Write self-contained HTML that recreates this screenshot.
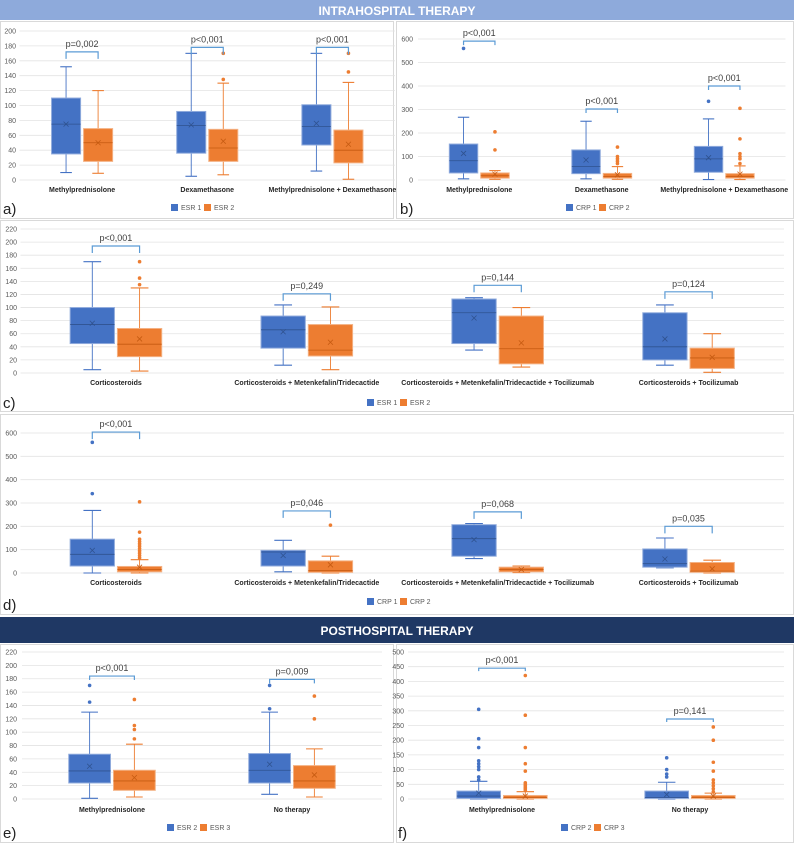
<!DOCTYPE html>
<html><head><meta charset="utf-8">
<style>
html,body{margin:0;padding:0;background:#fff;width:794px;height:843px;overflow:hidden;}
svg{display:block;font-family:"Liberation Sans",sans-serif;}
</style></head>
<body>
<svg id="fig" width="794" height="843" viewBox="0 0 794 843">
  <rect x="0" y="0" width="794" height="20" fill="#8eaadb"/>
  <text x="397" y="15" text-anchor="middle" fill="#fff" font-size="12" font-weight="bold">INTRAHOSPITAL THERAPY</text>
  <rect x="0.5" y="21.5" width="393" height="197" fill="none" stroke="#d9d9d9"/>
  <rect x="396.5" y="21.5" width="397" height="197" fill="none" stroke="#d9d9d9"/>
  <rect x="0.5" y="220.5" width="793" height="191" fill="none" stroke="#d9d9d9"/>
  <rect x="0.5" y="414.5" width="793" height="200" fill="none" stroke="#d9d9d9"/>
  <rect x="0" y="617" width="794" height="26" fill="#1f3864"/>
  <text x="397" y="635" text-anchor="middle" fill="#fff" font-size="12" font-weight="bold">POSTHOSPITAL THERAPY</text>
  <rect x="0.5" y="644.5" width="393" height="198" fill="none" stroke="#d9d9d9"/>
  <rect x="396.5" y="644.5" width="397" height="198" fill="none" stroke="#d9d9d9"/>
  <text x="3" y="214" font-size="15" fill="#222">a)</text>
  <text x="400" y="214" font-size="15" fill="#222">b)</text>
  <text x="3" y="408" font-size="15" fill="#222">c)</text>
  <text x="3" y="610" font-size="15" fill="#222">d)</text>
  <text x="3" y="838" font-size="15" fill="#222">e)</text>
  <text x="398" y="838" font-size="15" fill="#222">f)</text>
</svg>
<script>
// ---------- Panel a: ESR intrahospital ----------
const aCats = ['Methylprednisolone','Dexamethasone','Methylprednisolone + Dexamethasone'];
const aSeries = ['ESR 1','ESR 2'];
const aTicks = [0,20,40,60,80,100,120,140,160,180,200];
const aMin = [[10,9],[5,7],[12,1]];
const aQ1 = [[35,25],[36,25],[47,23]];
const aMed = [[75,50],[73,43],[72,40]];
const aQ3 = [[110,69],[92,68],[101,67]];
const aMax = [[152,120],[170,130],[170,131]];
const aMean = [[75,50],[74,52],[76,48]];
const aOut = [[[],[]],[[],[135,170]],[[],[145,170]]];
const aP = ['p=0,002','p<0,001','p<0,001'];
const aPTop = [172,178,178];

// ---------- Panel b: CRP intrahospital ----------
const bCats = ['Methylprednisolone','Dexamethasone','Methylprednisolone + Dexamethasone'];
const bSeries = ['CRP 1','CRP 2'];
const bTicks = [0,100,200,300,400,500,600];
const bMin = [[5,3],[5,3],[2,2]];
const bQ1 = [[30,8],[27,8],[33,8]];
const bMed = [[82,18],[57,15],[90,15]];
const bQ3 = [[153,30],[128,28],[143,27]];
const bMax = [[267,40],[250,57],[260,60]];
const bMean = [[113,25],[85,22],[95,25]];
const bOut = [[[560],[128,205]],[[],[70,80,90,100,140]],[[335],[70,90,100,112,175,305]]];
const bP = ['p<0,001','p<0,001','p<0,001'];
const bPTop = [591,302,400];

// ---------- Panel c: ESR by combination ----------
const cCats = ['Corticosteroids','Corticosteroids + Metenkefalin/Tridecactide','Corticosteroids + Metenkefalin/Tridecactide + Tocilizumab','Corticosteroids + Tocilizumab'];
const cSeries = ['ESR 1','ESR 2'];
const cTicks = [0,20,40,60,80,100,120,140,160,180,200,220];
const cMin = [[5,3],[12,5],[35,9],[12,1]];
const cQ1 = [[45,25],[38,26],[45,14],[20,7]];
const cMed = [[74,44],[66,35],[92,37],[40,23]];
const cQ3 = [[100,68],[87,74],[113,87],[92,38]];
const cMax = [[170,130],[104,101],[115,100],[104,60]];
const cMean = [[76,52],[63,47],[84,46],[52,24]];
const cOut = [[[],[135,145,170]],[[],[]],[[],[]],[[],[]]];
const cP = ['p<0,001','p=0,249','p=0,144','p=0,124'];
const cPTop = [194,121,134,124];

// ---------- Panel d: CRP by combination ----------
const dCats = cCats;
const dSeries = ['CRP 1','CRP 2'];
const dTicks = [0,100,200,300,400,500,600];
const dMin = [[0,0],[5,0],[62,2],[22,0]];
const dQ1 = [[30,5],[30,3],[72,5],[25,3]];
const dMed = [[80,15],[90,10],[147,15],[40,8]];
const dQ3 = [[145,28],[97,52],[207,25],[103,45]];
const dMax = [[268,57],[140,72],[212,30],[150,55]];
const dMean = [[97,25],[75,35],[143,15],[60,18]];
const dOut = [[[340,560],[65,75,85,95,105,115,125,135,145,175,305]],[[],[205]],[[],[]],[[],[]]];
const dP = ['p<0,001','p=0,046','p=0,068','p=0,035'];
const dPTop = [604,266,262,200];

// ---------- Panel e: ESR posthospital ----------
const eCats = ['Methylprednisolone','No therapy'];
const eSeries = ['ESR 2','ESR 3'];
const eTicks = [0,20,40,60,80,100,120,140,160,180,200,220];
const eMin = [[1,3],[7,3]];
const eQ1 = [[24,13],[24,16]];
const eMed = [[42,27],[43,27]];
const eQ3 = [[67,43],[68,50]];
const eMax = [[130,82],[130,75]];
const eMean = [[49,32],[52,36]];
const eOut = [[[145,170],[90,104,110,149]],[[135,170],[120,154]]];
const eP = ['p<0,001','p=0,009'];
const ePTop = [184,179];

// ---------- Panel f: CRP posthospital ----------
const fCats = ['Methylprednisolone','No therapy'];
const fSeries = ['CRP 2','CRP 3'];
const fTicks = [0,50,100,150,200,250,300,350,400,450,500];
const fMin = [[0,0],[0,0]];
const fQ1 = [[2,2],[2,2]];
const fMed = [[10,5],[5,5]];
const fQ3 = [[27,12],[27,12]];
const fMax = [[60,25],[57,20]];
const fMean = [[20,10],[15,10]];
const fOut = [[[65,75,100,110,120,130,175,205,305],[30,35,40,45,50,55,95,120,175,285,420]],[[75,85,100,140],[25,35,45,55,65,95,125,200,245]]];
const fP = ['p<0,001','p=0,141'];
const fPTop = [445,272];

const NS = 'http://www.w3.org/2000/svg';
const svg = document.getElementById('fig');
const FILL = ['#4472c4','#ed7d31'];
const EDGE = ['#8faadc','#f4b183'];
const DARK = ['#2f528f','#c55a11'];

function mk(tag, attrs, parent) {
  const el = document.createElementNS(NS, tag);
  for (const k in attrs) el.setAttribute(k, attrs[k]);
  (parent || svg).appendChild(el);
  return el;
}

function drawPanel(id, L, d) {
  const g = mk('g', {});
  
  
  const maxT = d.ticks[d.ticks.length - 1];
  const y = v => L.y0 - v * (L.y0 - L.yTop) / maxT;
  const band = (L.right - L.left) / d.cats.length;
  const cx = i => L.left + (i + 0.5) * band;
  const bw = band * 0.232, gap = 3;
  const sx = (i, s) => s === 0 ? cx(i) - gap / 2 - bw : cx(i) + gap / 2;

  d.ticks.forEach(t => {
    const gl = mk('line', {x1: L.left, x2: L.right, y1: y(t), y2: y(t), stroke: '#e3e3e3', 'stroke-width': 0.8}, g);
    
    
    const tl = mk('text', {x: L.tickX, y: y(t) + 2.5, 'text-anchor': 'end', 'font-size': 7, fill: '#595959'}, g);
    tl.textContent = t;
    
    
  });

  d.cats.forEach((c, i) => {
    for (let s = 0; s < 2; s++) {
      const x0 = sx(i, s), xm = x0 + bw / 2, cw = bw * 0.4;
      const col = FILL[s];
      const w1 = mk('line', {x1: xm, x2: xm, y1: y(d.q3[i][s]), y2: y(d.max[i][s]), stroke: col, 'stroke-width': 0.9}, g);
      
      
      const w2 = mk('line', {x1: xm, x2: xm, y1: y(d.q1[i][s]), y2: y(d.min[i][s]), stroke: col, 'stroke-width': 0.9}, g);
      
      
      [d.max[i][s], d.min[i][s]].forEach(v => {
        const cap = mk('line', {x1: xm - cw / 2, x2: xm + cw / 2, y1: y(v), y2: y(v), stroke: col, 'stroke-width': 1.1}, g);
        
        
      });
      const bx = mk('rect', {x: x0, y: y(d.q3[i][s]), width: bw, height: Math.max(0.5, y(d.q1[i][s]) - y(d.q3[i][s])), fill: col, stroke: EDGE[s], 'stroke-width': 1}, g);
      
      
      const md = mk('line', {x1: x0, x2: x0 + bw, y1: y(d.med[i][s]), y2: y(d.med[i][s]), stroke: DARK[s], 'stroke-width': 0.8}, g);
      
      
      const my = y(d.mean[i][s]);
      const mm = mk('path', {d: `M${xm-2.5},${my-2.5}L${xm+2.5},${my+2.5}M${xm-2.5},${my+2.5}L${xm+2.5},${my-2.5}`, stroke: DARK[s], 'stroke-width': 0.8, fill: 'none'}, g);
      
      
      d.out[i][s].forEach(v => {
        const o = mk('circle', {cx: xm, cy: y(v), r: 1.8, fill: col}, g);
        
        
      });
    }
    const cl = mk('text', {x: cx(i), y: L.catY, 'text-anchor': 'middle', 'font-size': 7, 'font-weight': 'bold', fill: '#262626'}, g);
    cl.textContent = c;
    
    
    const bx1 = sx(i, 0) + bw / 2, bx2 = sx(i, 1) + bw / 2, by = y(d.pTop[i]);
    const br = mk('path', {d: `M${bx1},${by+L.bd}L${bx1},${by}L${bx2},${by}L${bx2},${by+L.bd}`, stroke: '#5b9bd5', 'stroke-width': 1.2, fill: 'none'}, g);
    
    
    const pl = mk('text', {x: (bx1 + bx2) / 2, y: by - 5, 'text-anchor': 'middle', 'font-size': L.pFont, fill: '#404040'}, g);
    pl.textContent = d.p[i];
    
    
  });

  for (let s = 0; s < 2; s++) {
    const lx = L.legX - 30 + s * 33;
    const sw = mk('rect', {x: lx, y: L.legY - 6, width: 7, height: 7, fill: FILL[s]}, g);
    
    
    const lt = mk('text', {x: lx + 10, y: L.legY, 'font-size': 7, fill: '#595959'}, g);
    lt.textContent = d.series[s];
    
    
  }
}

drawPanel('a', {left: 19.5, right: 395, y0: 180, yTop: 31, tickX: 16, catY: 192, legX: 201, legY: 210, bd: 7, pFont: 9}, {cats: aCats, series: aSeries, ticks: aTicks, min: aMin, q1: aQ1, med: aMed, q3: aQ3, max: aMax, mean: aMean, out: aOut, p: aP, pTop: aPTop});
drawPanel('b', {left: 418, right: 785.5, y0: 180, yTop: 39, tickX: 413, catY: 192, legX: 596, legY: 210, bd: 4, pFont: 9}, {cats: bCats, series: bSeries, ticks: bTicks, min: bMin, q1: bQ1, med: bMed, q3: bQ3, max: bMax, mean: bMean, out: bOut, p: bP, pTop: bPTop});
drawPanel('c', {left: 20.5, right: 784, y0: 373, yTop: 229, tickX: 17, catY: 385, legX: 397, legY: 405, bd: 7, pFont: 9}, {cats: cCats, series: cSeries, ticks: cTicks, min: cMin, q1: cQ1, med: cMed, q3: cQ3, max: cMax, mean: cMean, out: cOut, p: cP, pTop: cPTop});
drawPanel('d', {left: 20.5, right: 784, y0: 573, yTop: 433, tickX: 17, catY: 585, legX: 397, legY: 604, bd: 7, pFont: 9}, {cats: dCats, series: dSeries, ticks: dTicks, min: dMin, q1: dQ1, med: dMed, q3: dQ3, max: dMax, mean: dMean, out: dOut, p: dP, pTop: dPTop});
drawPanel('e', {left: 22, right: 382, y0: 799, yTop: 652, tickX: 17, catY: 812, legX: 197, legY: 830, bd: 4, pFont: 9}, {cats: eCats, series: eSeries, ticks: eTicks, min: eMin, q1: eQ1, med: eMed, q3: eQ3, max: eMax, mean: eMean, out: eOut, p: eP, pTop: ePTop});
drawPanel('f', {left: 408, right: 784, y0: 799, yTop: 652, tickX: 404, catY: 812, legX: 591, legY: 830, bd: 3, pFont: 9}, {cats: fCats, series: fSeries, ticks: fTicks, min: fMin, q1: fQ1, med: fMed, q3: fQ3, max: fMax, mean: fMean, out: fOut, p: fP, pTop: fPTop});
</script>
</body></html>
